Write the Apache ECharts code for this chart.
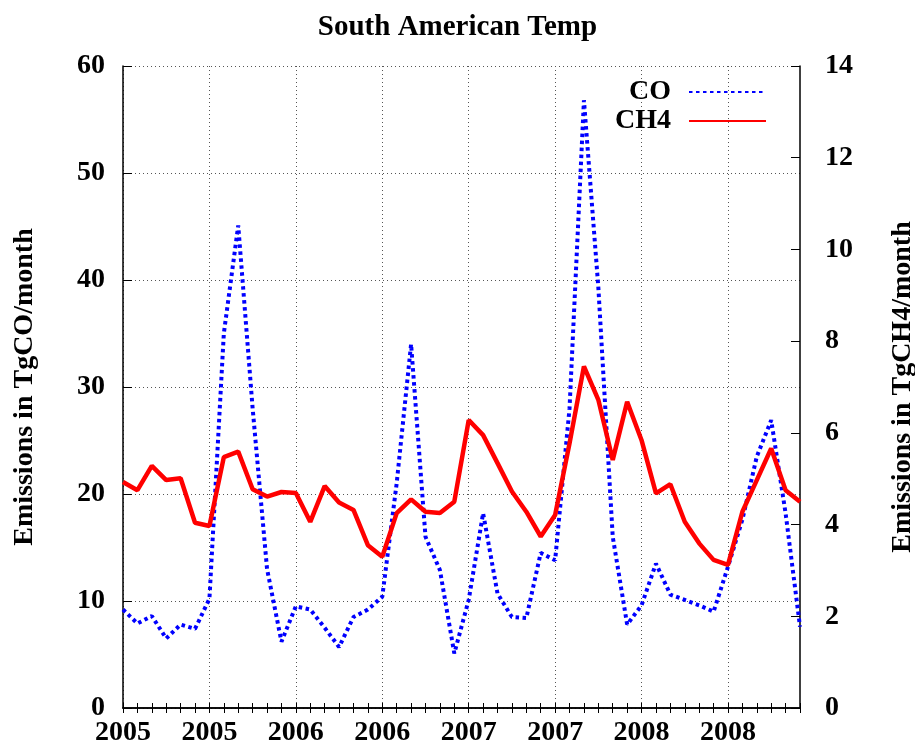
<!DOCTYPE html>
<html>
<head>
<meta charset="utf-8">
<script src="https://cdn.jsdelivr.net/npm/echarts@6/dist/echarts.min.js"></script>
<style>html,body{margin:0;padding:0;background:#fff}#c{width:915px;height:749px}</style>
</head>
<body>
<div id="c"></div>
<script>
// months 2005-01 .. 2008-12
var years = [2005, 2006, 2007, 2008];
var months = [];
for (var y = 0; y < years.length; y++) {
  for (var m = 1; m <= 12; m++) months.push(years[y] + '-' + (m < 10 ? '0' + m : m));
}
var coValues = [9.2, 7.9, 8.6, 6.5, 7.8, 7.4, 10.2, 35.0, 45.1, 28.0, 13.0, 6.2,
                9.5, 9.2, 7.5, 5.7, 8.5, 9.2, 10.4, 21.0, 34.0, 16.0, 12.9, 5.1,
                10.1, 18.2, 10.7, 8.5, 8.4, 14.5, 13.8, 28.0, 56.8, 39.3, 16.0, 7.8,
                9.6, 13.5, 10.6, 10.1, 9.6, 9.0, 13.2, 17.6, 23.5, 26.9, 18.2, 7.6];
var ch4Values = [4.93, 4.75, 5.28, 4.97, 5.01, 4.04, 3.97, 5.47, 5.59, 4.77, 4.61, 4.71,
                 4.69, 4.06, 4.84, 4.48, 4.32, 3.55, 3.30, 4.25, 4.55, 4.28, 4.25, 4.50,
                 6.28, 5.95, 5.34, 4.72, 4.28, 3.74, 4.21, 5.77, 7.45, 6.72, 5.41, 6.68,
                 5.84, 4.68, 4.88, 4.06, 3.59, 3.23, 3.12, 4.28, 4.97, 5.66, 4.75, 4.50];

var FONT = '"Liberation Serif", "Times New Roman", serif';
var chart = echarts.init(document.getElementById('c'), null, {renderer: 'canvas'});
var gridStyle = {color: '#555', type: [1, 3], width: 1};
chart.setOption({
  animation: false,
  backgroundColor: '#fff',
  title: {
    text: 'South American Temp', left: 'center', top: 8,
    textStyle: {fontFamily: FONT, fontWeight: 'bold', fontSize: 29, color: '#000'}
  },
  legend: {
    orient: 'vertical', right: 143, top: 73, align: 'right',
    itemWidth: 77, itemHeight: 14, itemGap: 1,
    itemStyle: {opacity: 0},
    textStyle: {fontFamily: FONT, fontWeight: 'bold', fontSize: 28, color: '#000', padding: [0, 13, 0, 0]},
    data: ['CO', 'CH4']
  },
  grid: {left: 123, right: 115, top: 66, bottom: 41, outerBoundsMode: 'none'},
  xAxis: [{
    type: 'category', data: months, boundaryGap: false,
    axisLine: {lineStyle: {color: '#000', width: 1.5}},
    axisTick: {inside: true, interval: 0, length: 5, lineStyle: {color: '#000', width: 1}},
    axisLabel: {interval: 5, margin: 11, color: '#000', fontFamily: FONT, fontWeight: 'bold', fontSize: 28,
      formatter: function (v) { return v.slice(0, 4); }},
    splitLine: {show: true, interval: 5, lineStyle: gridStyle}
  }, {
    type: 'category', data: months, boundaryGap: false, position: 'top',
    axisLine: {lineStyle: {color: '#000', width: 1.5}},
    axisTick: {inside: true, interval: 0, length: 5, lineStyle: {color: '#000', width: 1}},
    axisLabel: {show: false}, splitLine: {show: false}
  }],
  yAxis: [{
    type: 'value', min: 0, max: 60, interval: 10, position: 'left',
    name: 'Emissions in TgCO/month', nameLocation: 'middle', nameGap: 84,
    nameTextStyle: {fontFamily: FONT, fontWeight: 'bold', fontSize: 28, color: '#000'},
    axisLine: {show: true, lineStyle: {color: '#000', width: 1.5}},
    axisTick: {show: true, inside: true, length: 9, lineStyle: {color: '#000', width: 1}},
    axisLabel: {margin: 18, color: '#000', fontFamily: FONT, fontWeight: 'bold', fontSize: 28},
    splitLine: {show: true, lineStyle: gridStyle}
  }, {
    type: 'value', min: 0, max: 14, interval: 2, position: 'right',
    name: 'Emissions in TgCH4/month', nameLocation: 'middle', nameGap: 89, nameRotate: 90,
    nameTextStyle: {fontFamily: FONT, fontWeight: 'bold', fontSize: 28, color: '#000'},
    axisLine: {show: true, lineStyle: {color: '#000', width: 1.5}},
    axisTick: {show: true, inside: true, length: 9, lineStyle: {color: '#000', width: 1}},
    axisLabel: {margin: 25, color: '#000', fontFamily: FONT, fontWeight: 'bold', fontSize: 28},
    splitLine: {show: false}
  }],
  series: [{
    name: 'CO', type: 'line', data: coValues, xAxisIndex: 0, yAxisIndex: 0,
    symbol: 'none', z: 3,
    lineStyle: {color: '#0000ff', width: 4, type: [3.5, 3.5]},
    itemStyle: {color: '#0000ff'}
  }, {
    name: 'CH4', type: 'line', data: ch4Values, xAxisIndex: 0, yAxisIndex: 1,
    symbol: 'none', z: 4,
    lineStyle: {color: '#ff0000', width: 4.5},
    itemStyle: {color: '#ff0000'}
  }]
});
</script>
</body>
</html>
